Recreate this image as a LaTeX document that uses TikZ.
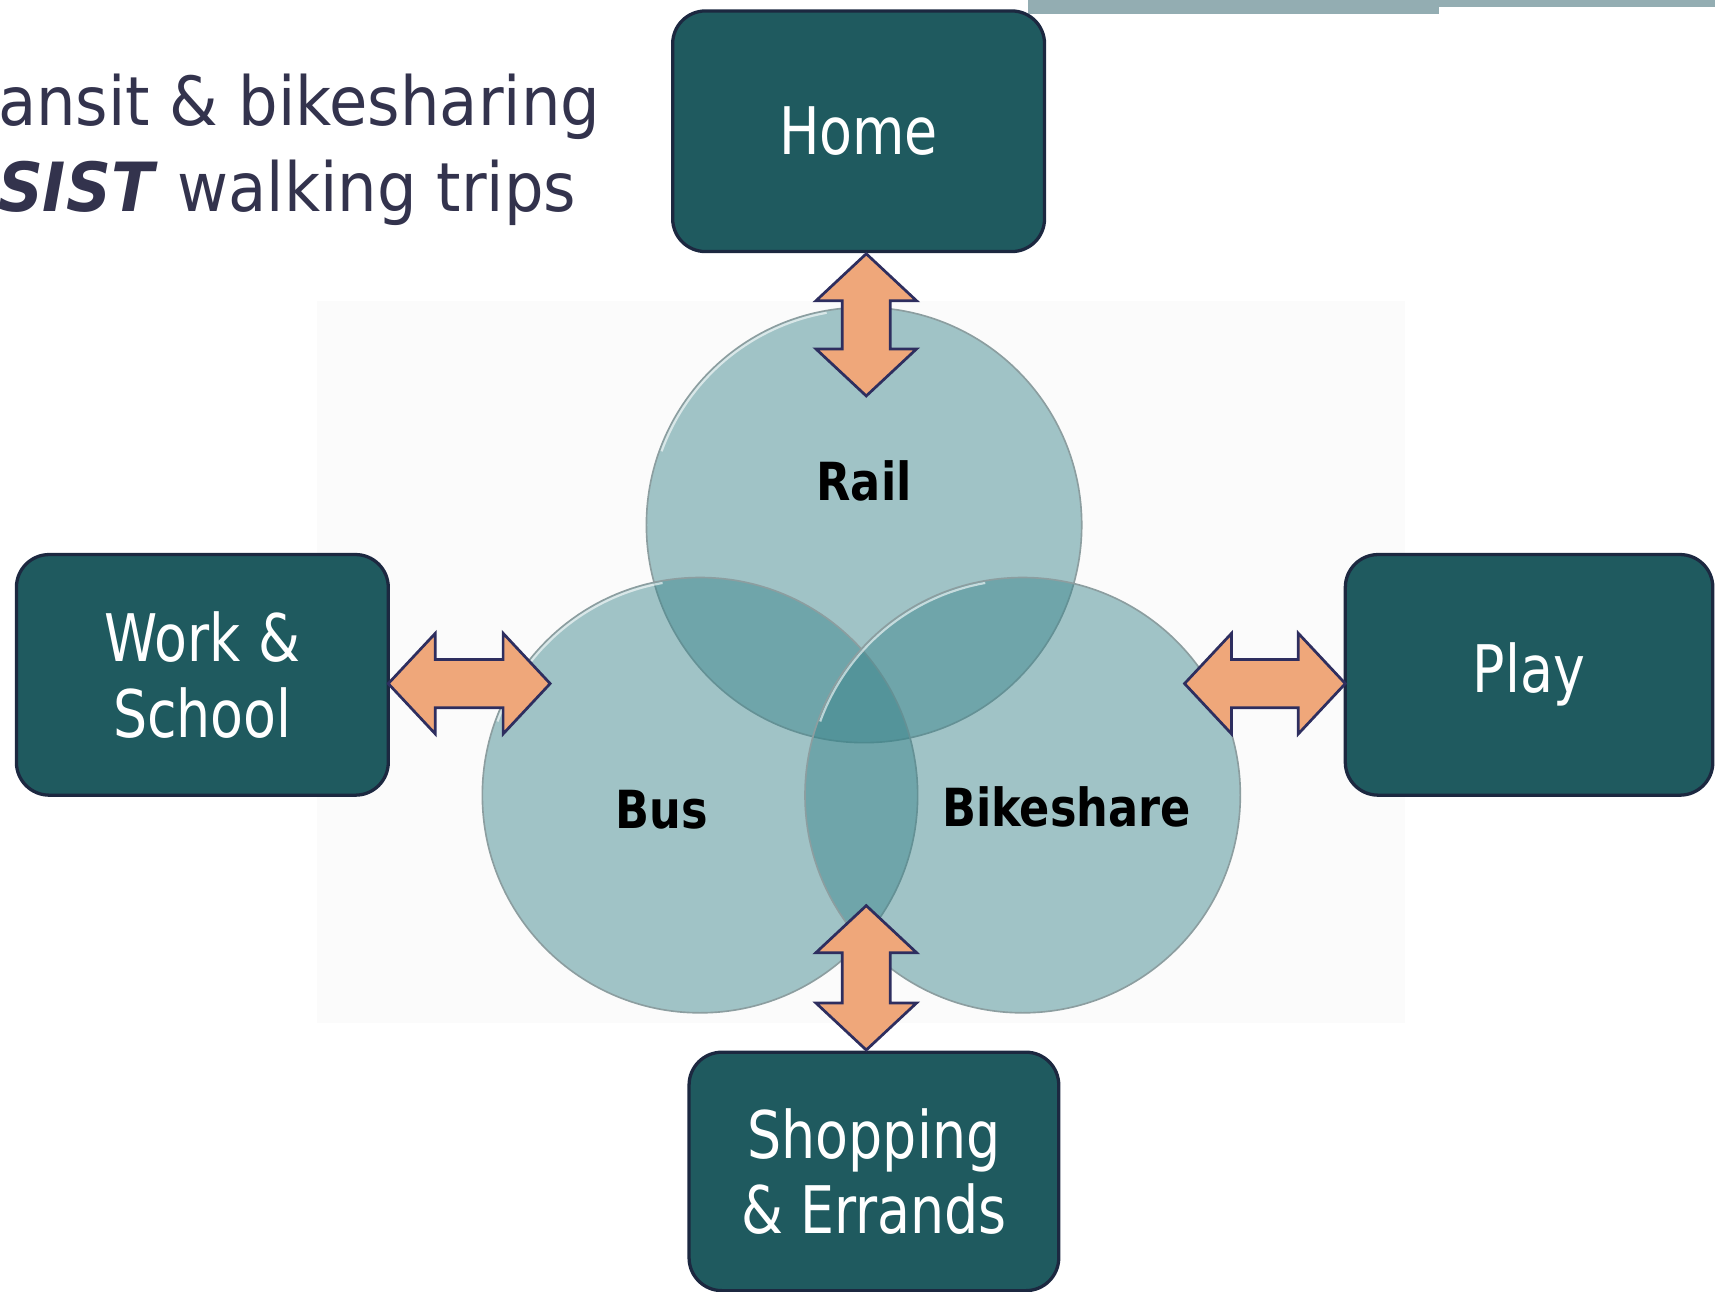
\documentclass[tikz,border=0pt]{standalone}
\usepackage{fontspec}
\setmainfont{DejaVu Sans}
\newfontfamily\boxfont[FakeStretch=0.82]{DejaVu Sans}
\newfontfamily\labfont[FakeStretch=0.85]{DejaVu Sans}
\newfontfamily\ttlfont[FakeStretch=0.92]{DejaVu Sans}
\usetikzlibrary{calc}
\definecolor{boxfill}{RGB}{31,90,95}
\definecolor{boxline}{RGB}{28,40,64}
\definecolor{arrfill}{RGB}{239,167,122}
\definecolor{arrline}{RGB}{46,46,95}
\definecolor{circfill}{RGB}{54,130,137}
\definecolor{circline}{RGB}{140,158,160}
\definecolor{ttl}{RGB}{51,51,77}
\definecolor{topbar}{RGB}{147,173,178}
\newcommand\dblarrow[2]{%
  \draw[blockarrow] let \p1=(#1), \p2=(#2),
    \n1={atan2(\y2-\y1,\x2-\x1)}, \n2={veclen(\x2-\x1,\y2-\y1)} in
    [shift={(\p1)}, rotate=\n1]
    (0,0) -- (43,46) -- (43,22) -- (\n2-43,22) -- (\n2-43,46) -- (\n2,0)
    -- (\n2-43,-46) -- (\n2-43,-22) -- (43,-22) -- (43,-46) -- cycle;}
\begin{document}
\begin{tikzpicture}[x=1pt,y=-1pt,
  place/.style={draw=boxline, line width=3pt, fill=boxfill, rounded corners=30pt,
    minimum width=340pt, minimum height=220pt, align=center, text=white,
    font=\boxfont\fontsize{60}{69}\selectfont, inner sep=0pt},
  mode/.style={circle, draw=circline, line width=1.5pt, fill=circfill,
    fill opacity=0.46, minimum size=398pt, inner sep=0pt},
  gloss/.style={white, line width=2pt, opacity=0.6},
  lab/.style={font=\labfont\bfseries\fontsize{48}{56}\selectfont, text=black, inner sep=0pt},
  ttltext/.style={anchor=base west, text=ttl, inner sep=0pt,
    font=\ttlfont\fontsize{62}{70}\selectfont},
  blockarrow/.style={draw=arrline, fill=arrfill, line width=2.5pt, line join=miter}
]
\useasboundingbox (0,0) rectangle (1568,1181);
% background panel and top bar
\fill[black!1.5] (290,275) rectangle (1285,935);
\fill[topbar] (940,0) rectangle (1316,13);
\fill[topbar] (1316,0) rectangle (1568,6);
% title text
\node[ttltext] (title1) at (-2,115) {ansit \& bikesharing};
\node[ttltext] (title2) at (-2,193) {\textbf{\textit{SIST}} walking trips};
% circles
\node[mode] (rail) at (790,480) {};
\node[mode] (bus) at (640,727) {};
\node[mode] (bike) at (935,727) {};
\foreach \c in {rail,bus,bike}
  \draw[gloss] ([shift={(-100:197)}]\c.center) arc[start angle=-100, end angle=-160, radius=197];
\node[lab] (raillab) at (790,440) {Rail};
\node[lab] (buslab) at (605,740) {Bus};
\node[lab] (bikelab) at (975,738) {Bikeshare};
% boxes
\node[place] (home) at (785,120) {Home};
\node[place] (work) at (185,617) {Work \&\\School};
\node[place, minimum width=336pt] (play) at (1398,617) {Play};
\node[place, minimum width=338pt, minimum height=218pt] (shop) at (799,1071) {Shopping\\\& Errands};
% arrow end points
\coordinate (homeA) at (792,232);
\coordinate (railA) at (792,362);
\coordinate (shopA) at (792,960);
\coordinate (midA) at (792,828);
\coordinate (workA) at (355,625);
\coordinate (busA) at (503,625);
\coordinate (playA) at (1230,625);
\coordinate (bikeA) at (1083,625);
\dblarrow{homeA}{railA}
\dblarrow{midA}{shopA}
\dblarrow{workA}{busA}
\dblarrow{bikeA}{playA}
\end{tikzpicture}
\end{document}
